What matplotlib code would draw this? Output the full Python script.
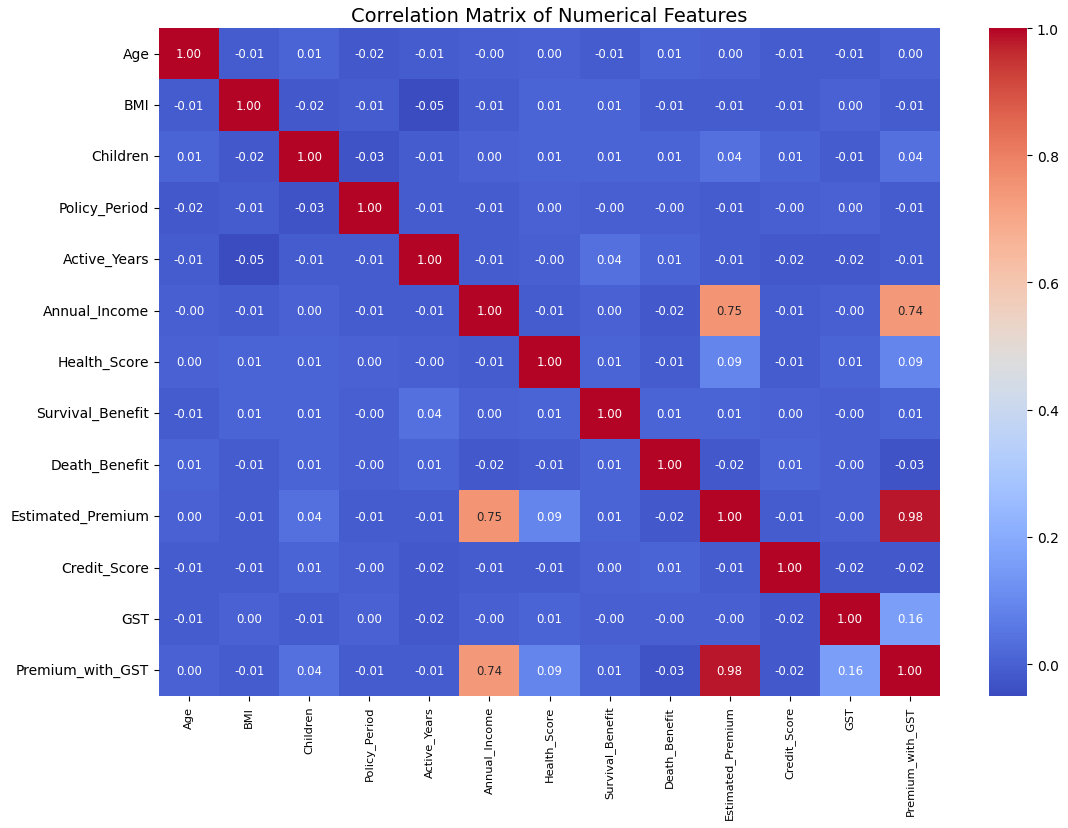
import numpy as np
import matplotlib
matplotlib.use("Agg")
import matplotlib.pyplot as plt
import seaborn as sns

features = ["Age", "BMI", "Children", "Policy_Period", "Active_Years", "Annual_Income",
            "Health_Score", "Survival_Benefit", "Death_Benefit", "Estimated_Premium",
            "Credit_Score", "GST", "Premium_with_GST"]

row_age = [1.00, -0.01, 0.01, -0.02, -0.01, -0.003, 0.00, -0.01, 0.01, 0.00, -0.01, -0.01, 0.00]
row_bmi = [-0.01, 1.00, -0.02, -0.01, -0.05, -0.01, 0.01, 0.01, -0.01, -0.01, -0.01, 0.00, -0.01]
row_children = [0.01, -0.02, 1.00, -0.03, -0.01, 0.00, 0.01, 0.01, 0.01, 0.04, 0.01, -0.01, 0.04]
row_policy = [-0.02, -0.01, -0.03, 1.00, -0.01, -0.01, 0.00, -0.003, -0.003, -0.01, -0.003, 0.00, -0.01]
row_active = [-0.01, -0.05, -0.01, -0.01, 1.00, -0.01, -0.003, 0.04, 0.01, -0.01, -0.02, -0.02, -0.01]
row_income = [-0.003, -0.01, 0.00, -0.01, -0.01, 1.00, -0.01, 0.00, -0.02, 0.75, -0.01, -0.003, 0.74]
row_health = [0.00, 0.01, 0.01, 0.00, -0.003, -0.01, 1.00, 0.01, -0.01, 0.09, -0.01, 0.01, 0.09]
row_survival = [-0.01, 0.01, 0.01, -0.003, 0.04, 0.00, 0.01, 1.00, 0.01, 0.01, 0.00, -0.003, 0.01]
row_death = [0.01, -0.01, 0.01, -0.003, 0.01, -0.02, -0.01, 0.01, 1.00, -0.02, 0.01, -0.003, -0.03]
row_estimated = [0.00, -0.01, 0.04, -0.01, -0.01, 0.75, 0.09, 0.01, -0.02, 1.00, -0.01, -0.003, 0.98]
row_credit = [-0.01, -0.01, 0.01, -0.003, -0.02, -0.01, -0.01, 0.00, 0.01, -0.01, 1.00, -0.02, -0.02]
row_gst = [-0.01, 0.00, -0.01, 0.00, -0.02, -0.003, 0.01, -0.003, -0.003, -0.003, -0.02, 1.00, 0.16]
row_premium_gst = [0.00, -0.01, 0.04, -0.01, -0.01, 0.74, 0.09, 0.01, -0.03, 0.98, -0.02, 0.16, 1.00]

corr = np.array([row_age, row_bmi, row_children, row_policy, row_active, row_income,
                 row_health, row_survival, row_death, row_estimated, row_credit,
                 row_gst, row_premium_gst])

W, H = 1068, 829
fig = plt.figure(figsize=(W / 100, H / 100), dpi=100)
ax = fig.add_axes([159 / W, (H - 697) / H, 781 / W, 668 / H])
cax = fig.add_axes([989 / W, (H - 697) / H, 38 / W, 668 / H])

sns.heatmap(corr, annot=True, fmt=".2f", cmap="coolwarm", ax=ax, cbar_ax=cax,
            xticklabels=features, yticklabels=features,
            annot_kws={"size": 8.5})

ax.set_title("Correlation Matrix of Numerical Features", fontsize=14, pad=5)
ax.tick_params(axis="y", labelsize=10)
ax.tick_params(axis="x", labelsize=8.2)
plt.setp(ax.get_xticklabels(), rotation=90)
plt.setp(ax.get_yticklabels(), rotation=0)
cax.tick_params(labelsize=10)
cax.set_yticks([0.0, 0.2, 0.4, 0.6, 0.8, 1.0])

fig.savefig("out.png", dpi=100)
